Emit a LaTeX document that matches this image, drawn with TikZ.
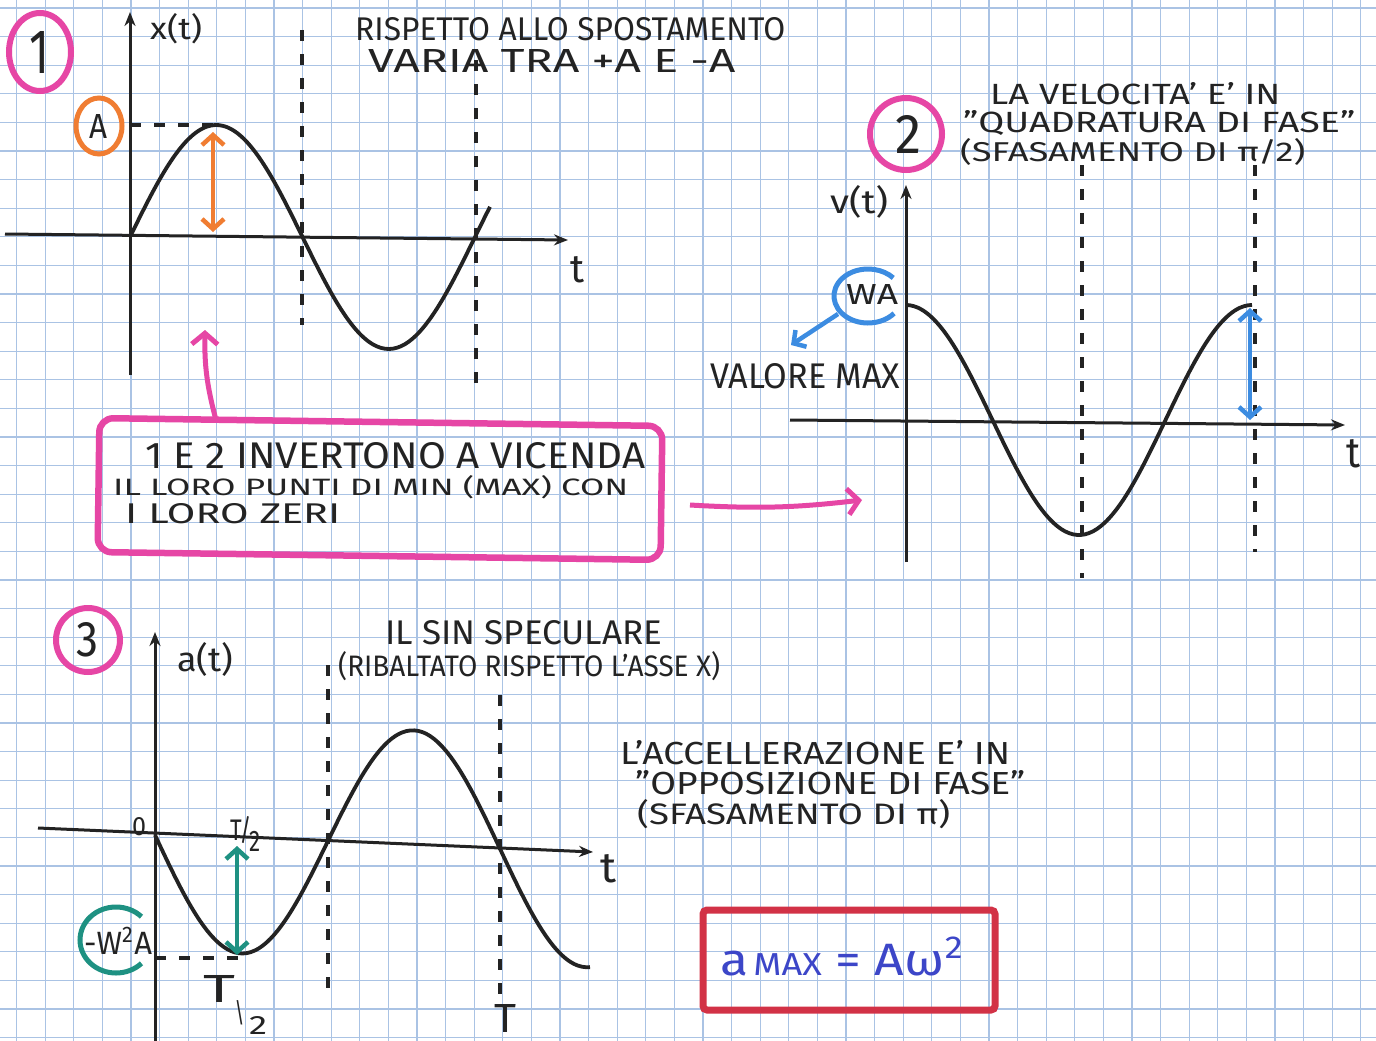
\documentclass[tikz,border=0pt]{standalone}
\usepackage{fontspec}
\setmainfont{Fira Sans}
\usetikzlibrary{arrows.meta,shapes.geometric}
\definecolor{gridc}{RGB}{170,195,228}
\definecolor{pinkc}{RGB}{230,70,165}
\definecolor{orangec}{RGB}{240,125,50}
\definecolor{bluec}{RGB}{60,140,225}
\definecolor{tealc}{RGB}{30,145,130}
\definecolor{redc}{RGB}{210,50,70}
\definecolor{inkblue}{RGB}{60,70,200}
\definecolor{inkc}{RGB}{35,35,35}
\newcommand\hw[3]{\resizebox{#1pt}{#2pt}{#3}}
\begin{document}
\begin{tikzpicture}[x=1pt,y=-1pt,
  txt/.style={inner sep=0pt, anchor=base west, text=inkc},
  gridln/.style={draw=gridc, line width=1.1pt},
  curve/.style={draw=inkc, line width=3.8pt, smooth},
  axisln/.style={draw=inkc, line width=3pt, -{Stealth[length=14pt,width=11pt]}},
  dsh/.style={draw=inkc, line width=3.4pt, dash pattern=on 11pt off 13pt},
  numcirc/.style={draw=pinkc, line width=6pt, circle, inner sep=0pt},
  dbl/.style={line width=4.5pt, {Straight Barb[length=10pt,width=22pt]}-{Straight Barb[length=10pt,width=22pt]}},
  pinkarrow/.style={draw=pinkc, line width=5pt, -{Straight Barb[length=11pt,width=26pt]}},
]
\useasboundingbox (0,0) rectangle (1376,1041);
\fill[white] (0,0) rectangle (1376,1041);
% grid paper
\foreach \i in {0,...,47} \draw[gridln] ({16.6+28.6*\i},0) -- ({16.6+28.6*\i},1041);
\foreach \j in {0,...,36} \draw[gridln] (0,{8+28.6*\j}) -- (1376,{8+28.6*\j});

% ---------------- Panel 1 ----------------
\node[numcirc, ellipse, minimum width=62pt, minimum height=78pt] (c1) at (40,52) {};
\node[inner sep=0pt, text=inkc] (n1) at (40,52) {\hw{20}{42}{1}};
\coordinate (y1b) at (130,375); \coordinate (y1t) at (130,12);
\coordinate (x1l) at (5,234); \coordinate (x1r) at (568,240);
\draw[axisln] (y1b) -- (y1t);
\draw[axisln] (x1l) -- (x1r);
\node[txt] (xt) at (150,40) {\hw{52}{26}{x(t)}};
\node[txt] (t1) at (570,282) {\hw{14}{26}{t}};
\coordinate (d1a) at (302,30); \coordinate (d1b) at (302,325);
\coordinate (d2a) at (476,60); \coordinate (d2b) at (476,395);
\draw[dsh] (d1a) -- (d1b);
\draw[dsh] (d2a) -- (d2b);
\coordinate (pk1) at (215,125); \coordinate (ya1) at (130,125);
\draw[dsh] (ya1) -- (pk1);
\draw[curve] plot[domain=130:490, samples=90] (\x,{237-112*sin((\x-130)/345*360)});
\node[draw=orangec, line width=5pt, ellipse, minimum width=46pt, minimum height=56pt, inner sep=0pt] (Ac) at (99,126) {};
\node[inner sep=0pt, text=inkc] (An) at (99,126) {\hw{18}{24}{A}};
\coordinate (oa1) at (213,132); \coordinate (oa2) at (213,232);
\draw[dbl, draw=orangec] (oa1) -- (oa2);
\node[txt] (r1a) at (355,41) {\hw{430}{23}{RISPETTO ALLO SPOSTAMENTO}};
\node[txt] (r1b) at (368,72) {\hw{367}{23}{VARIA TRA +A E -A}};

% ---------------- Box ----------------
\node[draw=pinkc, line width=6.5pt, rounded corners=14pt, minimum width=563pt, minimum height=134pt, rotate=-0.8] (box) at (380,489) {};
\node[txt] (b1) at (145,468) {\hw{500}{26}{1 E 2 INVERTONO A VICENDA}};
\node[txt] (b2) at (113,495) {\hw{515}{20}{IL LORO PUNTI DI MIN (MAX) CON}};
\node[txt] (b3) at (125,523) {\hw{215}{20}{I LORO ZERI}};
\coordinate (pa1) at (216,420); \coordinate (pa2) at (205,330);
\draw[pinkarrow] (pa1) to[bend left=8] (pa2);
\coordinate (pb1) at (690,505); \coordinate (pb2) at (862,500);
\draw[pinkarrow] (pb1) to[bend right=5] (pb2);

% ---------------- Panel 2 ----------------
\node[numcirc, minimum size=72pt] (c2) at (906,134) {};
\node[inner sep=0pt, text=inkc] (n2) at (908,134) {\hw{26}{38}{2}};
\node[txt] (v1) at (990,104) {\hw{290}{22}{LA VELOCITA' E' IN}};
\node[txt] (v2) at (963,132) {\hw{392}{22}{"QUADRATURA DI FASE"}};
\node[txt] (v3) at (960,161) {\hw{345}{23}{(SFASAMENTO DI π/2)}};
\coordinate (y2b) at (906,562); \coordinate (y2t) at (906,185);
\coordinate (x2l) at (790,420); \coordinate (x2r) at (1345,425);
\draw[axisln] (y2b) -- (y2t);
\draw[axisln] (x2l) -- (x2r);
\node[txt] (vt) at (830,213) {\hw{58}{28}{v(t)}};
\node[txt] (t2) at (1346,467) {\hw{14}{28}{t}};
\coordinate (d3a) at (1082,165); \coordinate (d3b) at (1082,578);
\coordinate (d4a) at (1255,165); \coordinate (d4b) at (1255,552);
\draw[dsh] (d3a) -- (d3b);
\draw[dsh] (d4a) -- (d4b);
\draw[curve] plot[domain=906:1252, samples=90] (\x,{420-115*cos((\x-906)/346*360)});
\coordinate (ba1) at (1250,308); \coordinate (ba2) at (1250,420);
\draw[dbl, draw=bluec] (ba1) -- (ba2);
\coordinate (wac) at (868,296);
\draw[draw=bluec, line width=5pt] ([shift={(40:34 and 27)}]wac) arc[start angle=40, end angle=318, x radius=34, y radius=27];
\node[txt] (wa) at (846,304) {\hw{52}{20}{WA}};
\node[txt] (vmax) at (710,388) {\hw{190}{25}{VALORE MAX}};
\coordinate (bw1) at (838,314); \coordinate (bw2) at (791,345);
\draw[draw=bluec, line width=4.5pt, -{Straight Barb[length=9pt,width=20pt]}] (bw1) -- (bw2);

% ---------------- Panel 3 ----------------
\node[numcirc, minimum size=64pt] (c3) at (88,640) {};
\node[inner sep=0pt, text=inkc] (n3) at (88,640) {\hw{22}{34}{3}};
\coordinate (y3b) at (155,1041); \coordinate (y3t) at (155,632);
\coordinate (x3l) at (38,828); \coordinate (x3r) at (593,852);
\draw[axisln] (y3b) -- (y3t);
\draw[axisln] (x3l) -- (x3r);
\node[txt] (at) at (177,671) {\hw{56}{29}{a(t)}};
\node[txt] (s1) at (385,644) {\hw{277}{24}{IL SIN SPECULARE}};
\node[txt] (s2) at (338,676) {\hw{382}{25}{(RIBALTATO RISPETTO L'ASSE X)}};
\node[txt] (o1) at (620,764) {\hw{390}{24}{L'ACCELLERAZIONE E' IN}};
\node[txt] (o2) at (635,794) {\hw{390}{24}{"OPPOSIZIONE DI FASE"}};
\node[txt] (o3) at (637,824) {\hw{313}{25}{(SFASAMENTO DI π)}};
\coordinate (d5a) at (328,665); \coordinate (d5b) at (328,990);
\coordinate (d6a) at (500,695); \coordinate (d6b) at (500,1003);
\draw[dsh] (d5a) -- (d5b);
\draw[dsh] (d6a) -- (d6b);
\coordinate (ya3) at (155,958); \coordinate (mn3) at (238,958);
\draw[dsh] (ya3) -- (mn3);
\draw[curve] plot[domain=155:590, samples=110] (\x,{835+(\x-155)*0.04+115*sin((\x-155)/345*360)});
\coordinate (ta1) at (237,846); \coordinate (ta2) at (237,955);
\draw[dbl, draw=tealc] (ta1) -- (ta2);
\coordinate (w2c) at (116,940);
\draw[draw=tealc, line width=5pt] ([shift={(45:36 and 33)}]w2c) arc[start angle=45, end angle=315, x radius=36, y radius=33];
\node[txt] (w2a) at (84,954) {\hw{68}{27}{-W\textsuperscript{2}A}};
\node[txt] (zero) at (132,835) {\hw{14}{18}{0}};
\node[txt] (th1) at (230,840) {\hw{30}{24}{T\kern-1pt/\kern-1pt\raisebox{-4pt}{2}}};
\node[txt] (th2T) at (203,1002) {\hw{32}{27}{T}};
\node[inner sep=0pt, text=inkc, rotate=20] (th2s) at (240,1013) {\hw{10}{22}{/}};
\node[txt] (th2n) at (249,1034) {\hw{18}{18}{2}};
\node[txt] (tT) at (494,1032) {\hw{22}{28}{T}};
\node[txt] (t3) at (600,882) {\hw{16}{28}{t}};

% formula box
\node[draw=redc, line width=7pt, rounded corners=4pt, minimum width=292pt, minimum height=100pt] (fbox) at (849,960) {};
\node[txt, text=inkblue] (form) at (720,975) {\hw{245}{38}{a\kern1pt{\scriptsize MAX} = Aω\textsuperscript{2}}};
\end{tikzpicture}
\end{document}
